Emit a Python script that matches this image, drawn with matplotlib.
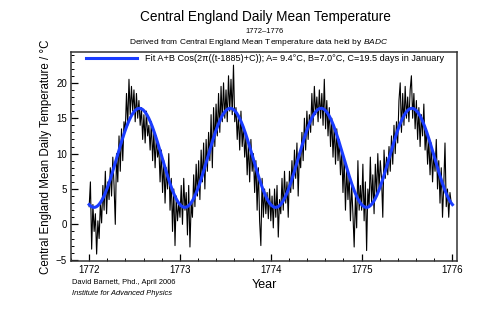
import numpy as np
import matplotlib
matplotlib.use("Agg")
import matplotlib.pyplot as plt
from matplotlib.ticker import MultipleLocator

plt.rcParams["font.family"] = ["Liberation Sans", "DejaVu Sans"]
plt.rcParams["mathtext.fontset"] = "custom"
plt.rcParams["mathtext.rm"] = "Liberation Sans"
plt.rcParams["mathtext.it"] = "Liberation Sans:italic"

# daily mean temperature, read off roughly every 5 days (deg C)
STEP_DAYS = 5
T_1772 = [2.5, 6.0, -3.5, 2.8, -1.0, 1.5, -4.2, 0.5, -2.0, 3.0, 0.2, 5.5, 2.0, 7.5, 1.5, 6.0,
          3.5, 8.0, 4.0, 9.5, 5.5, 0.0, 10.0, 6.0, 12.5, 7.5, 13.5, 9.0, 14.5, 13.0, 18.5, 14.0,
          20.5, 15.5, 19.5, 16.0, 19.0, 14.5, 18.5, 15.0, 17.5, 14.0, 16.5, 12.0, 15.5, 11.5,
          16.0, 12.5, 14.0, 10.5, 14.5, 9.0, 13.0, 8.0, 12.5, 9.5, 11.0, 6.0, 10.5, 4.5, 9.0,
          3.0, 8.0, 5.0, 10.0, 2.0, 6.5, -1.0, 5.0, -3.0, 4.0, 0.5, 3.0]
T_1773 = [1.0, 5.5, 0.0, 6.5, 2.0, 4.5, -1.5, 5.5, -3.2, 3.0, 1.0, 7.0, 2.5, 8.5, 4.0, 9.0,
          3.5, 10.5, 6.0, 11.5, 5.0, 12.0, 7.5, 13.0, 9.0, 15.5, 8.0, 16.5, 11.0, 17.0, 12.5,
          18.5, 13.0, 19.5, 14.5, 20.0, 15.0, 19.0, 14.5, 21.0, 16.0, 20.5, 15.5, 22.5, 14.5,
          16.5, 12.0, 15.5, 10.5, 16.0, 11.0, 14.0, 9.5, 12.5, 7.0, 11.5, 6.0, 12.0, 7.5, 10.0,
          4.5, 9.0, 2.0, 8.0, 0.5, -3.0, 6.5, 1.0, 5.0, 1.5, 4.5, 0.8, 5.0]
T_1774 = [0.5, 4.0, -0.5, 5.0, 1.0, 5.5, -1.8, 3.5, 1.5, 6.5, 2.0, 7.5, 3.0, 6.0, 1.0, 7.5,
          4.5, 9.0, 5.0, 10.5, 6.5, 11.5, 4.0, 10.0, 8.0, 13.0, 9.0, 15.0, 10.5, 16.0, 12.0,
          15.5, 13.0, 18.5, 14.0, 19.5, 15.5, 18.0, 14.5, 19.0, 15.0, 18.5, 14.0, 20.5, 13.5,
          17.5, 12.5, 16.5, 11.0, 15.0, 9.5, 14.0, 8.5, 13.5, 9.0, 12.0, 7.0, 10.5, 4.5, 9.5,
          2.0, 8.0, 3.5, 7.0, 0.5, 5.5, 1.5, -3.2, 4.0, -0.5, 9.0, 2.0, 5.5]
T_1775 = [2.0, 8.5, 0.5, 6.0, -3.7, 5.0, 2.5, 9.5, 3.0, 7.0, 1.5, 8.5, 4.0, 10.0, 5.0, 9.0,
          6.5, 1.0, 10.5, 6.5, 9.5, 7.0, 11.0, 7.5, 12.5, 8.5, 14.0, 10.0, 14.5, 11.5, 17.5,
          20.0, 13.0, 18.5, 14.0, 19.5, 15.0, 18.0, 14.5, 19.0, 21.0, 15.0, 18.5, 13.5, 17.5,
          12.0, 16.5, 11.0, 15.5, 12.5, 17.0, 10.5, 13.5, 8.5, 12.0, 7.0, 11.5, 6.0, 10.0, 7.5,
          12.0, 5.0, 9.0, 3.0, 8.0, 1.0, 5.5, 11.5, 2.5, 5.0, 1.0, 4.5, 3.0]
YEARS = [1772, 1773, 1774, 1775]

# fit parameters from the legend
FIT_A = 9.4
FIT_B = 7.0
FIT_C_DAYS = 19.5

t_list, temp_list = [], []
for year, vals in zip(YEARS, [T_1772, T_1773, T_1774, T_1775]):
    days = np.arange(len(vals)) * STEP_DAYS
    t_list.append(year + days / 365.0)
    temp_list.append(np.array(vals))
t = np.concatenate(t_list)
temp = np.concatenate(temp_list)

t_fit = np.linspace(1772, 1776, 800)
fit = FIT_A - FIT_B * np.cos(2 * np.pi * (t_fit - FIT_C_DAYS / 365.0))

fig = plt.figure(figsize=(5, 3.12), dpi=100)
ax = fig.add_axes([0.142, 0.163, 0.772, 0.669])
ax.plot(t, temp, color="black", linewidth=0.8)
ax.plot(t_fit, fit, color="#1a3cff", linewidth=2.2,
        label="Fit A+B Cos(2\u03c0((t-1885)+C)); A= 9.4\u00b0C, B=7.0\u00b0C, C=19.5 days in January")

ax.set_xlim(1771.8, 1776.05)
ax.set_ylim(-5.2, 24.3)
ax.xaxis.set_major_locator(MultipleLocator(1))
ax.xaxis.set_minor_locator(MultipleLocator(0.2))
ax.yaxis.set_major_locator(MultipleLocator(5))
ax.yaxis.set_minor_locator(MultipleLocator(1))
ax.tick_params(which="both", direction="in", top=False, right=False, labelsize=7, pad=3)
ax.tick_params(which="major", length=5, width=0.9)
ax.tick_params(which="minor", length=2.5, width=0.7)
for sp in ax.spines.values():
    sp.set_linewidth(1.1)
    sp.set_color("#333333")

ax.set_xlabel("Year", fontsize=9, labelpad=3)
ax.set_ylabel("Central England Mean Daily Temperature / \u00b0C", fontsize=8.3, labelpad=3)
ax.legend(loc="upper left", bbox_to_anchor=(0.03, 1.01), frameon=False, fontsize=6.6,
          handlelength=5.5, borderaxespad=0.0, handletextpad=0.9)

fig.text(0.53, 0.946, "Central England Daily Mean Temperature", ha="center", va="center", fontsize=9.8)
fig.text(0.53, 0.900, "1772\u20131776", ha="center", va="center", fontsize=5.5)
fig.text(0.518, 0.865, r"Derived from Central England Mean Temperature data held by $\mathit{BADC}$",
         ha="center", va="center", fontsize=6)
fig.text(0.144, 0.093, "David Barnett, Phd., April 2006", ha="left", va="center", fontsize=5.4)
fig.text(0.144, 0.058, "Institute for Advanced Physics", ha="left", va="center", fontsize=5.4, style="italic")

fig.savefig("out.png", dpi=100)
